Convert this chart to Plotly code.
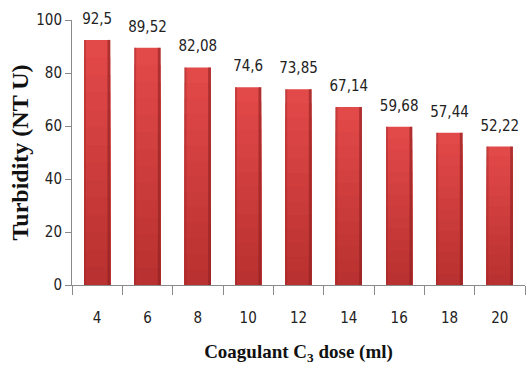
import plotly.graph_objects as go

# Coagulant C3 dose (ml) and measured turbidity (NTU)
doses = ["4", "6", "8", "10", "12", "14", "16", "18", "20"]
turbidity = [92.5, 89.52, 82.08, 74.6, 73.85, 67.14, 59.68, 57.44, 52.22]
y_ticks = [0, 20, 40, 60, 80, 100]

labels = [f"{v:g}".replace(".", ",") for v in turbidity]

narrow = "DejaVu Sans Condensed, Liberation Sans Narrow, Arial Narrow, sans-serif"
serif = "Liberation Serif, Times New Roman, serif"


def mix(c1, c2, t):
    a = [int(c1[i:i + 2], 16) for i in (1, 3, 5)]
    b = [int(c2[i:i + 2], 16) for i in (1, 3, 5)]
    return "#" + "".join(f"{round(x + (y - x) * t):02x}" for x, y in zip(a, b))


fig = go.Figure()

# vertical shading: progressively shorter, darker bars stacked over the full bar
top_col, bottom_col = "#e24949", "#b93130"
steps = 14
for k in range(steps):
    frac = 1 - k / steps
    fig.add_trace(go.Bar(
        x=doses,
        y=[v * frac for v in turbidity],
        width=0.52,
        marker=dict(color=mix(top_col, bottom_col, k / (steps - 1)), line=dict(width=0)),
        hoverinfo="skip",
        showlegend=False,
    ))

# darker side edges
for off, w, col, op in [(-0.26, 0.035, "#a52828", 0.45), (0.205, 0.055, "#8e1f1f", 0.6)]:
    fig.add_trace(go.Bar(
        x=doses,
        y=turbidity,
        width=w,
        offset=off,
        marker=dict(color=col, line=dict(width=0), opacity=op),
        hoverinfo="skip",
        showlegend=False,
    ))

# value labels above the bars
fig.add_trace(go.Scatter(
    x=doses,
    y=turbidity,
    mode="markers+text",
    marker=dict(size=18, color="rgba(0,0,0,0)"),
    text=labels,
    textposition="top center",
    textfont=dict(family=narrow, size=15, color="#222222"),
    cliponaxis=False,
    hoverinfo="skip",
    showlegend=False,
))

fig.update_layout(
    width=526,
    height=367,
    barmode="overlay",
    paper_bgcolor="white",
    plot_bgcolor="white",
    margin=dict(l=72, r=1, t=20, b=82, autoexpand=False),
    xaxis=dict(
        type="category",
        range=[-0.5, len(doses) - 0.5],
        tickson="boundaries",
        ticks="outside",
        ticklen=9,
        tickcolor="#8a8a8a",
        showline=True,
        linecolor="#8a8a8a",
        linewidth=1,
        showgrid=False,
        ticklabelstandoff=19,
        tickfont=dict(family=narrow, size=15, color="#222222"),
        title=dict(
            text="<b>Coagulant C<sub>3</sub> dose (ml)</b>",
            font=dict(family=serif, size=19, color="#111111"),
            standoff=18,
        ),
    ),
    yaxis=dict(
        range=[0, 100],
        tickvals=y_ticks,
        ticks="outside",
        ticklen=6,
        tickcolor="#8a8a8a",
        showline=True,
        linecolor="#8a8a8a",
        linewidth=1,
        showgrid=False,
        zeroline=False,
        tickfont=dict(family=narrow, size=15, color="#222222"),
        title=dict(
            text="<b>Turbidity (NT U)</b>",
            font=dict(family=serif, size=24, color="#111111"),
            standoff=0,
        ),
    ),
)

fig.write_html("out.html")
